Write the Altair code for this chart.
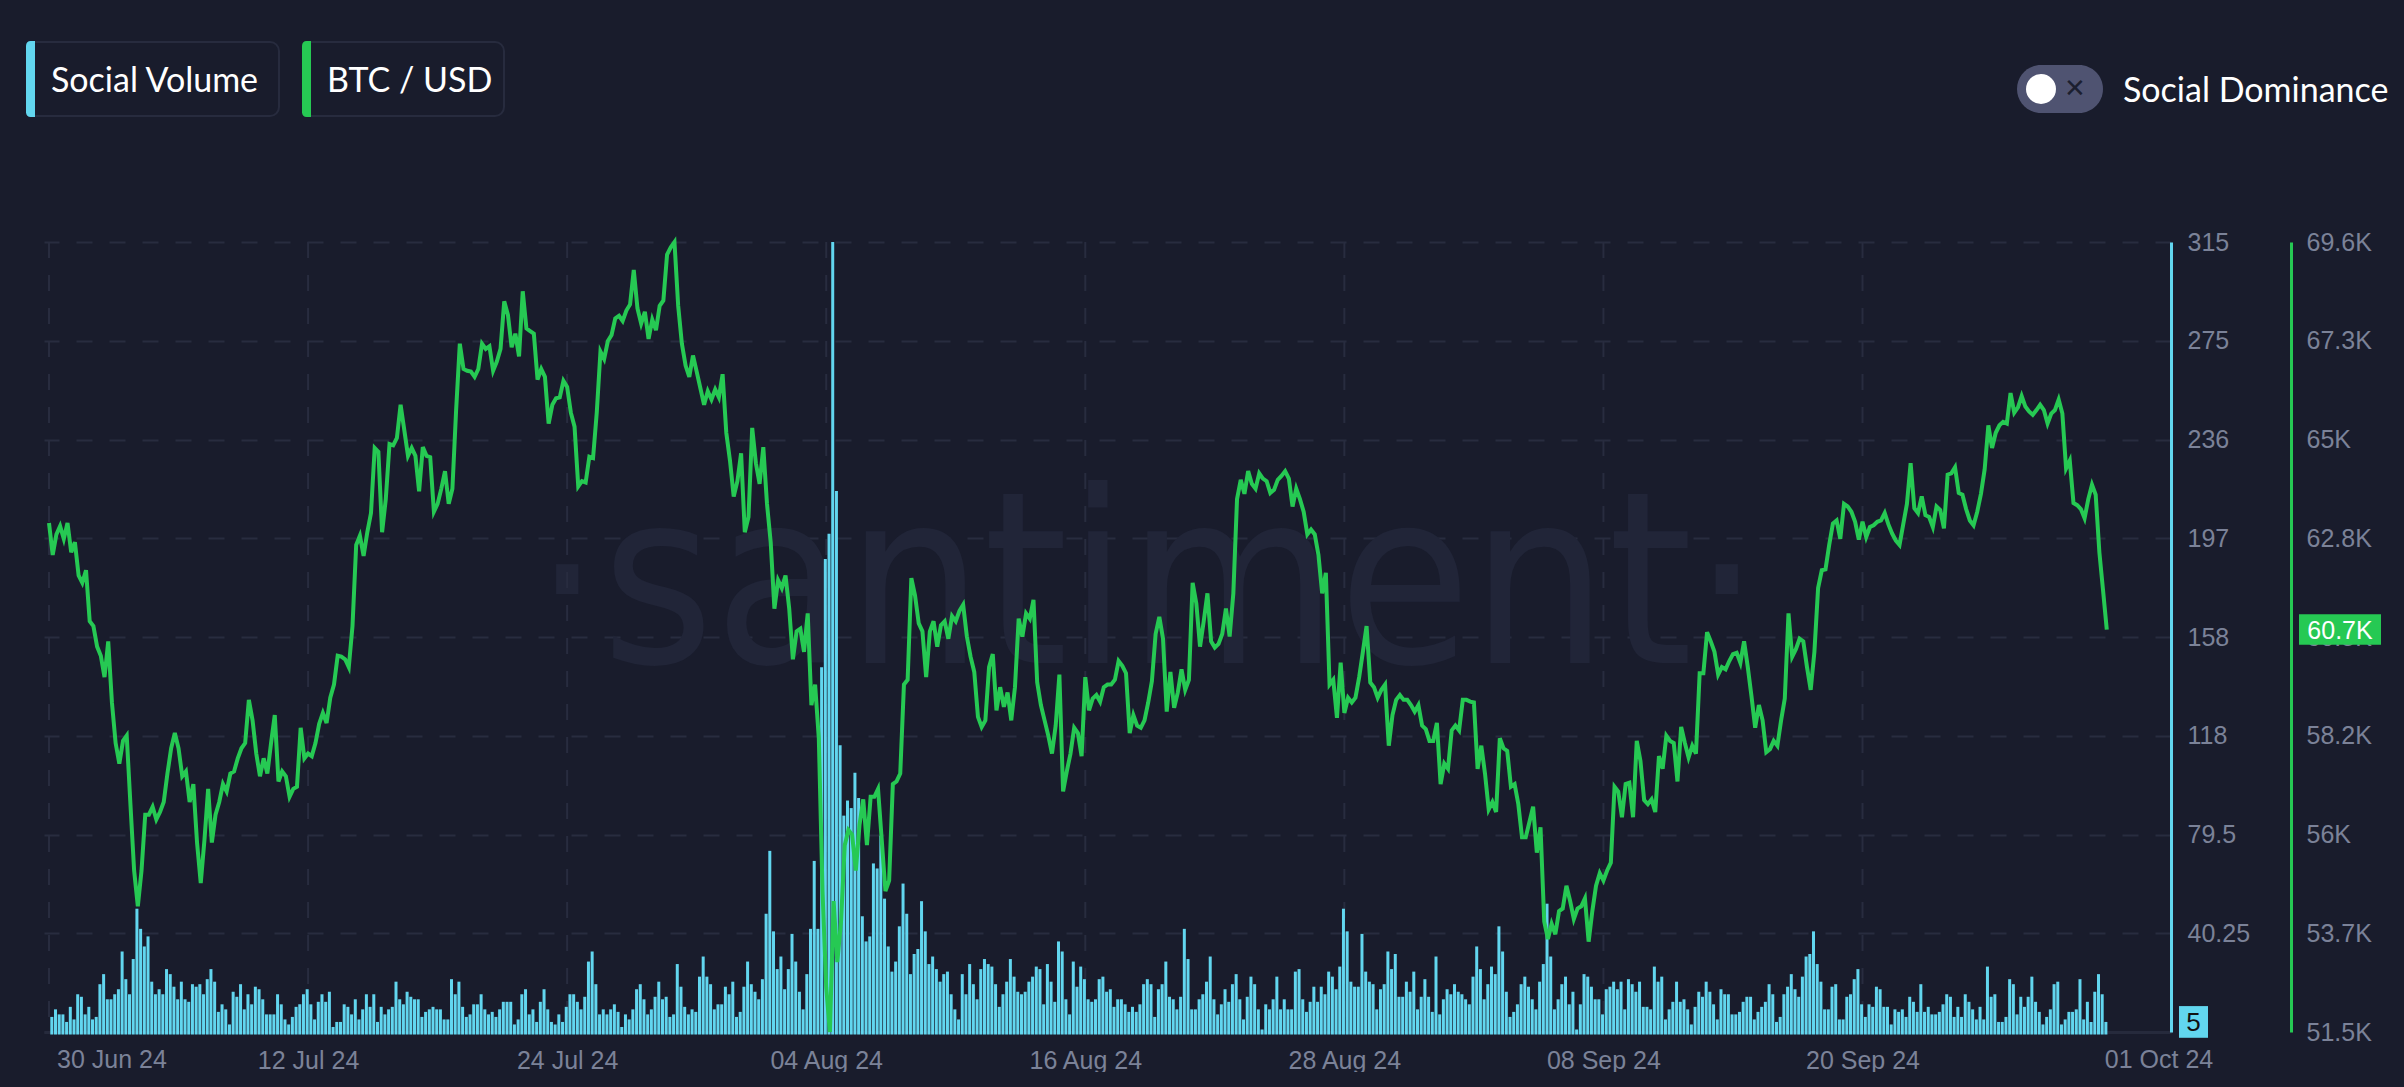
import calendar
import datetime as dt
import altair as alt

# ---------------- data (4-hour samples) ----------------
# BTC / USD close, in thousands of USD, 30 Jun 24 08:00 UTC .. 01 Oct 24 00:00 UTC
btc_usd_k = [
    63.16, 62.43, 62.90, 63.09, 62.80, 63.16, 62.49, 62.72, 61.96, 61.79,
    62.08, 60.91, 60.80, 60.33, 60.12, 59.63, 60.45, 59.05, 58.12, 57.65,
    58.17, 58.29, 56.72, 55.20, 54.38, 55.20, 56.48, 56.48, 56.66, 56.37,
    56.54, 56.77, 57.42, 58.00, 58.35, 58.00, 57.36, 57.47, 56.77, 57.18,
    55.84, 54.91, 55.90, 57.07, 55.84, 56.48, 56.77, 57.18, 57.01, 57.42,
    57.47, 57.77, 58.00, 58.12, 59.11, 58.64, 57.88, 57.36, 57.77, 57.42,
    58.12, 58.76, 57.24, 57.47, 57.36, 56.89, 57.07, 57.12, 58.47, 57.77,
    57.88, 57.82, 58.12, 58.56, 58.81, 58.58, 59.16, 59.46, 60.12, 60.10,
    60.04, 59.86, 60.80, 62.66, 62.87, 62.41, 62.95, 63.39, 64.88, 64.79,
    62.95, 63.71, 64.97, 64.94, 65.11, 65.87, 65.29, 64.70, 64.88, 64.70,
    63.89, 64.90, 64.70, 64.67, 63.42, 63.60, 63.95, 64.35, 63.60, 63.95,
    65.75, 67.27, 66.69, 66.65, 66.63, 66.51, 66.69, 67.27, 67.15, 67.21,
    66.65, 66.86, 67.15, 68.24, 67.93, 67.19, 67.50, 66.98, 68.47, 67.62,
    67.56, 67.50, 66.45, 66.69, 66.51, 65.44, 65.87, 66.02, 66.04, 66.42,
    66.28, 65.69, 65.37, 64.00, 64.12, 64.09, 64.68, 64.65, 65.69, 67.09,
    66.92, 67.33, 67.47, 67.85, 67.91, 67.79, 68.03, 68.17, 68.96, 68.08,
    67.73, 68.00, 67.38, 67.82, 67.58, 68.14, 68.26, 69.31, 69.48, 69.60,
    68.14, 67.27, 66.77, 66.51, 67.00, 66.63, 66.25, 65.87, 66.18, 65.99,
    66.22, 66.04, 66.57, 65.23, 64.59, 63.77, 64.12, 64.76, 62.95, 63.30,
    65.34, 64.53, 64.06, 64.90, 63.60, 62.72, 61.20, 61.85, 61.67, 61.96,
    61.20, 60.04, 60.68, 60.74, 60.21, 61.09, 58.99, 59.46, 58.23, 54.73,
    52.52, 51.50, 54.50, 53.10, 54.03, 55.78, 56.13, 56.02, 55.20, 56.25,
    56.83, 55.78, 56.89, 56.89, 57.07, 55.90, 54.73, 54.97, 57.18, 57.24,
    57.42, 59.46, 59.57, 61.90, 61.50, 60.86, 60.68, 59.63, 60.68, 60.91,
    60.33, 60.82, 60.91, 60.51, 61.03, 60.91, 61.15, 61.29, 60.56, 60.10,
    59.75, 58.72, 58.49, 58.64, 59.86, 60.16, 58.87, 59.40, 58.95, 59.28,
    58.64, 59.40, 60.97, 60.56, 61.09, 60.97, 61.40, 59.51, 58.99, 58.64,
    58.29, 57.88, 58.52, 59.69, 57.01, 57.47, 57.88, 58.47, 58.35, 57.82,
    59.63, 58.87, 59.14, 59.22, 59.07, 59.40, 59.46, 59.46, 59.57, 60.00,
    59.89, 59.72, 58.35, 58.76, 58.52, 58.47, 58.64, 59.05, 59.54, 60.62,
    61.01, 60.51, 58.84, 59.75, 58.93, 59.28, 59.81, 59.34, 59.57, 61.79,
    61.32, 60.33, 60.91, 61.55, 60.45, 60.31, 60.39, 60.62, 61.20, 60.56,
    61.55, 63.71, 64.15, 63.83, 64.35, 64.06, 63.95, 64.30, 64.18, 64.12,
    63.85, 63.92, 64.15, 64.24, 64.35, 64.18, 63.54, 63.95, 63.71, 63.42,
    62.90, 63.01, 62.90, 62.43, 61.55, 62.02, 59.46, 59.57, 58.70, 59.96,
    58.81, 59.16, 59.05, 59.16, 59.63, 60.21, 60.80, 59.51, 59.40, 59.16,
    59.34, 59.46, 58.06, 58.76, 59.11, 59.22, 59.11, 59.11, 58.99, 58.84,
    58.99, 58.52, 58.44, 58.17, 58.17, 58.58, 57.18, 57.65, 57.53, 58.41,
    58.52, 58.41, 59.11, 59.11, 59.07, 59.05, 57.53, 58.06, 57.42, 56.60,
    56.77, 56.54, 58.23, 58.00, 57.94, 57.12, 57.18, 56.72, 55.96, 55.96,
    56.31, 56.66, 55.61, 56.19, 54.03, 53.63, 53.98, 53.74, 54.27, 54.33,
    54.85, 54.50, 54.09, 54.33, 54.38, 54.56, 53.57, 54.27, 54.85, 55.14,
    54.97, 55.20, 55.38, 57.12, 57.01, 56.42, 57.18, 57.21, 56.42, 58.17,
    57.71, 56.81, 56.72, 56.83, 56.54, 57.82, 57.53, 58.29, 58.17, 58.12,
    57.24, 58.49, 58.12, 57.79, 58.06, 57.88, 59.72, 59.72, 60.66, 60.45,
    60.21, 59.69, 59.86, 59.81, 60.00, 60.16, 60.19, 59.96, 60.45, 59.86,
    59.19, 58.47, 58.99, 58.64, 57.91, 57.98, 58.17, 58.06, 58.64, 59.14,
    61.09, 60.10, 60.27, 60.51, 60.45, 59.86, 59.34, 60.21, 61.67, 62.08,
    62.10, 62.66, 63.15, 63.22, 62.80, 63.60, 63.54, 63.42, 63.19, 62.78,
    63.19, 62.84, 63.07, 63.11, 63.19, 63.22, 63.39, 63.13, 62.92, 62.76,
    62.66, 63.13, 63.60, 64.53, 63.50, 63.39, 63.77, 63.34, 63.30, 63.07,
    63.54, 63.46, 63.04, 64.27, 64.30, 64.44, 63.85, 63.81, 63.48, 63.22,
    63.11, 63.42, 63.83, 64.39, 65.40, 64.88, 65.23, 65.40, 65.48, 65.44,
    66.14, 65.69, 65.81, 66.07, 65.83, 65.72, 65.64, 65.75, 65.87, 65.75,
    65.44, 65.67, 65.75, 65.99, 65.67, 64.41, 64.59, 63.62, 63.57, 63.48,
    63.27, 63.71, 64.04, 63.81, 62.49, 61.61, 60.72,
]

# Social Volume per 4-hour bucket
social_volume = [
    7, 10, 8, 8, 5, 11, 6, 16, 15, 8,
    11, 6, 7, 20, 24, 14, 14, 16, 18, 33,
    22, 16, 30, 50, 42, 35, 39, 21, 16, 18,
    16, 26, 24, 19, 14, 21, 14, 13, 20, 19,
    20, 16, 22, 26, 21, 9, 12, 10, 4, 17,
    15, 20, 10, 16, 12, 19, 18, 14, 8, 8,
    8, 16, 12, 6, 4, 7, 11, 12, 16, 18,
    12, 6, 13, 16, 13, 17, 3, 5, 5, 12,
    11, 8, 14, 6, 10, 16, 11, 16, 5, 11,
    8, 10, 11, 21, 14, 12, 17, 15, 14, 14,
    7, 9, 10, 11, 10, 10, 6, 6, 22, 16,
    21, 11, 7, 8, 12, 12, 16, 10, 8, 9,
    7, 10, 13, 13, 13, 4, 6, 16, 18, 8,
    10, 5, 13, 18, 10, 5, 4, 8, 5, 11,
    16, 16, 13, 10, 15, 29, 33, 20, 8, 10,
    8, 10, 12, 9, 3, 8, 6, 10, 18, 20,
    14, 8, 10, 15, 21, 14, 15, 7, 8, 28,
    19, 11, 8, 10, 9, 23, 31, 23, 20, 10,
    12, 12, 19, 16, 21, 7, 9, 19, 29, 20,
    17, 14, 22, 48, 73, 41, 26, 31, 18, 26,
    40, 29, 17, 10, 24, 42, 69, 42, 146, 189,
    199, 315, 216, 115, 87, 93, 90, 104, 94, 47,
    37, 39, 68, 66, 79, 54, 35, 25, 29, 43,
    60, 48, 24, 32, 34, 53, 41, 28, 31, 26,
    21, 24, 25, 16, 10, 6, 24, 16, 28, 20,
    14, 26, 30, 28, 27, 20, 11, 16, 21, 30,
    23, 17, 16, 17, 21, 23, 27, 26, 12, 28,
    21, 13, 37, 33, 14, 8, 29, 19, 27, 22,
    14, 13, 14, 22, 23, 17, 18, 11, 14, 14,
    12, 9, 11, 9, 12, 20, 22, 20, 7, 18,
    20, 29, 15, 14, 10, 15, 42, 30, 10, 10,
    14, 16, 21, 31, 14, 8, 12, 18, 13, 20,
    24, 14, 6, 15, 23, 20, 10, 2, 12, 10,
    14, 23, 10, 14, 10, 10, 25, 26, 14, 9,
    13, 19, 13, 19, 16, 25, 23, 18, 27, 50,
    41, 21, 19, 19, 40, 25, 21, 20, 10, 18,
    20, 33, 26, 32, 15, 15, 21, 17, 25, 10,
    15, 22, 15, 9, 31, 8, 14, 18, 16, 20,
    17, 16, 14, 12, 23, 35, 26, 14, 20, 27,
    24, 43, 33, 17, 7, 9, 12, 20, 23, 19,
    14, 10, 21, 28, 52, 31, 10, 14, 20, 23,
    12, 17, 2, 12, 24, 23, 19, 14, 14, 8,
    18, 19, 21, 18, 21, 10, 22, 20, 17, 21,
    11, 11, 10, 27, 21, 23, 6, 10, 13, 21,
    13, 14, 10, 4, 11, 17, 15, 21, 17, 12,
    6, 18, 16, 16, 8, 8, 9, 13, 15, 15,
    6, 9, 11, 13, 20, 16, 5, 7, 16, 19,
    24, 18, 15, 23, 31, 32, 41, 28, 21, 10,
    10, 19, 20, 6, 6, 15, 16, 22, 26, 12,
    7, 12, 11, 19, 18, 11, 11, 4, 10, 9,
    10, 7, 15, 13, 9, 20, 9, 11, 8, 8,
    9, 12, 16, 15, 7, 11, 7, 16, 13, 10,
    6, 11, 6, 27, 15, 16, 5, 5, 7, 22,
    20, 8, 15, 11, 15, 23, 13, 9, 4, 7,
    10, 20, 21, 4, 6, 9, 9, 10, 22, 6,
    13, 5, 17, 24, 16, 5,
]

legend_names = ["Social Volume", "BTC / USD"]
toggle_label = "Social Dominance"
watermark_text = "\u00b7santiment\u00b7"
edge_labels = ["30 Jun 24", "01 Oct 24"]

# axis ranges shown by the reference
vol_range = [1, 315]
price_range = [51500, 69600]

# ---------------- time axis ----------------
START = dt.datetime(2024, 6, 30, 8, 0)
STEP_H = 4
DOMAIN_END = START + dt.timedelta(hours=2288)
GRID_STEP_H = 280


def iso(t):
    return t.strftime("%Y-%m-%dT%H:%M:%SZ")


def ms(t):
    return calendar.timegm(t.timetuple()) * 1000


price_rows = [{"t": iso(START + dt.timedelta(hours=STEP_H * i)), "price": round(p * 1000)}
              for i, p in enumerate(btc_usd_k)]
vol_rows = [{"t": iso(START + dt.timedelta(hours=STEP_H * i)), "vol": v}
            for i, v in enumerate(social_volume)]
grid_rows = [{"t": iso(START + dt.timedelta(hours=GRID_STEP_H * k))} for k in range(8)]
x_tick_ms = [ms(START + dt.timedelta(hours=GRID_STEP_H * k)) for k in range(1, 8)]

# ---------------- style ----------------
BG = "#191c2c"
GRID = "#282c3f"
LABEL = "#7b8298"
CYAN = "#62d6ef"
GREEN = "#26c953"
WM = "#212538"
AXFONT = "Liberation Sans"
UIFONT = "Lato"

W, H = 2127, 790

xs = alt.Scale(type="utc", domain=[ms(START), ms(DOMAIN_END)], nice=False)
x_axis = alt.Axis(values=x_tick_ms, labelExpr="utcFormat(time(datum.value) + 43200000, '%d %b %y')",
                  grid=False, ticks=False, domain=True, domainColor="#262a3c", domainWidth=3,
                  labelColor=LABEL, labelFont=AXFONT, labelFontSize=25, labelPadding=16,
                  labelFlush=False, labelOverlap=False, title=None)

vol_ticks = [vol_range[0] + (vol_range[1] - vol_range[0]) * k / 8 for k in range(9)]
price_ticks = [price_range[0] + (price_range[1] - price_range[0]) * k / 8 for k in range(9)]

vs = alt.Scale(domain=vol_range, nice=False, zero=False)
ps = alt.Scale(domain=price_range, nice=False, zero=False)

vol_axis = alt.Axis(orient="right", values=vol_ticks,
                    labelExpr="datum.value < 2 ? '' : (datum.value >= 100 ? format(floor(datum.value), 'd') : format(datum.value, '~g'))",
                    grid=True, gridColor=GRID, gridDash=[16, 17], gridWidth=2,
                    domain=True, domainColor=CYAN, domainWidth=3, ticks=False,
                    labelColor=LABEL, labelFont=AXFONT, labelFontSize=25, labelPadding=16,
                    labelOverlap=False, title=None)
price_axis = alt.Axis(orient="right", offset=120, values=price_ticks,
                      labelExpr="replace(format(floor(datum.value / 100) / 10, '.1f'), '.0', '') + 'K'",
                      grid=False, domain=True, domainColor=GREEN, domainWidth=3, ticks=False,
                      labelColor=LABEL, labelFont=AXFONT, labelFontSize=25, labelPadding=15,
                      labelOverlap=False, title=None)

one = alt.Data(values=[{"k": 0}])

# watermark
watermark = alt.Chart(one).mark_text(
    text=watermark_text, font="Liberation Sans Narrow, DejaVu Sans Condensed, Liberation Sans",
    fontSize=240, color=WM, align="center", baseline="alphabetic"
).encode(x=alt.value(1103), y=alt.value(421))

# vertical dashed grid
vgrid = alt.Chart(alt.Data(values=grid_rows)).mark_rule(
    color=GRID, strokeWidth=2, strokeDash=[16, 17]
).encode(x=alt.X("t:T", scale=xs, axis=x_axis))

# social volume bars + last value tag
bars = alt.Chart(alt.Data(values=vol_rows)).mark_bar(width=3, xOffset=2.8, color=CYAN).encode(
    x=alt.X("t:T", scale=xs, axis=x_axis),
    y=alt.Y("vol:Q", scale=vs, axis=vol_axis),
)
vol_last = alt.Data(values=[{"vol": social_volume[-1]}])
vol_tag_box = alt.Chart(vol_last).transform_calculate(
    lo="datum.vol - 6.3", hi="datum.vol + 6.3"
).mark_rect(color=CYAN).encode(
    x=alt.value(2135), x2=alt.value(2164),
    y=alt.Y("lo:Q", scale=vs, axis=vol_axis), y2="hi:Q",
)
vol_tag_txt = alt.Chart(vol_last).transform_calculate(lbl="format(datum.vol, 'd')").mark_text(
    font=AXFONT, fontSize=26, color="#111111", align="center", baseline="middle", dy=1
).encode(x=alt.value(2149.5), y=alt.Y("vol:Q", scale=vs, axis=vol_axis), text="lbl:N")
vol_layer = alt.layer(bars, vol_tag_box, vol_tag_txt)

# BTC line + last value tag
line = alt.Chart(alt.Data(values=price_rows)).mark_line(color=GREEN, strokeWidth=4).encode(
    x=alt.X("t:T", scale=xs, axis=x_axis),
    y=alt.Y("price:Q", scale=ps, axis=price_axis),
)
price_last = alt.Data(values=[{"price": round(btc_usd_k[-1] * 1000)}])
price_tag_box = alt.Chart(price_last).transform_calculate(
    lo="datum.price - 350", hi="datum.price + 350"
).mark_rect(color=GREEN).encode(
    x=alt.value(2255), x2=alt.value(2337),
    y=alt.Y("lo:Q", scale=ps, axis=price_axis), y2="hi:Q",
)
price_tag_txt = alt.Chart(price_last).transform_calculate(
    lbl="format(floor(datum.price / 100) / 10, '.1f') + 'K'"
).mark_text(font=AXFONT, fontSize=25, color="#ffffff", align="center", baseline="middle", dy=1).encode(
    x=alt.value(2296), y=alt.Y("price:Q", scale=ps, axis=price_axis), text="lbl:N")
price_layer = alt.layer(line, price_tag_box, price_tag_txt)

# x-axis edge labels (start / end of range)
edge_first = alt.Chart(one).mark_text(text=edge_labels[0], font=AXFONT, fontSize=25, color=LABEL,
                                      align="center", baseline="alphabetic").encode(
    x=alt.value(68), y=alt.value(826))
edge_last = alt.Chart(one).mark_text(text=edge_labels[1], font=AXFONT, fontSize=25, color=LABEL,
                                     align="center", baseline="alphabetic").encode(
    x=alt.value(2115), y=alt.value(826))

# legend chips at the top
def chip(x0, x1, color, label):
    box = alt.Chart(one).mark_rect(fill=BG, stroke="#272b3e", strokeWidth=2, cornerRadius=9).encode(
        x=alt.value(x0), x2=alt.value(x1), y=alt.value(-200), y2=alt.value(-126))
    stripe = alt.Chart(one).mark_rect(color=color, cornerRadiusTopLeft=9, cornerRadiusBottomLeft=9).encode(
        x=alt.value(x0 - 1), x2=alt.value(x0 + 8), y=alt.value(-201), y2=alt.value(-125))
    txt = alt.Chart(one).mark_text(text=label, font=UIFONT, fontSize=34, color="#ffffff",
                                   align="left", baseline="alphabetic").encode(
        x=alt.value(x0 + 24), y=alt.value(-150))
    return [box, stripe, txt]


chips = chip(-17, 235, CYAN, legend_names[0]) + chip(259, 460, GREEN, legend_names[1])

pill = alt.Chart(one).mark_rect(color="#4f5371", cornerRadius=24).encode(
    x=alt.value(1973), x2=alt.value(2059), y=alt.value(-177), y2=alt.value(-129))
knob = alt.Chart(one).mark_circle(color="#ffffff", opacity=1, size=900).encode(
    x=alt.value(1997), y=alt.value(-153))
cross = alt.Chart(one).mark_text(text="\u2715", font="DejaVu Sans", fontSize=26, color="#1c1f30",
                                 align="center", baseline="middle").encode(
    x=alt.value(2031), y=alt.value(-153))
toggle_txt = alt.Chart(one).mark_text(text=toggle_label, font=UIFONT, fontSize=34, color="#ffffff",
                                      align="left", baseline="alphabetic").encode(
    x=alt.value(2079), y=alt.value(-140))

chart = alt.layer(
    watermark, vgrid, vol_layer, price_layer, edge_first, edge_last,
    *chips, pill, knob, cross, toggle_txt
).resolve_scale(y="independent").properties(
    width=W, height=H,
    padding={"left": 36, "top": 234, "right": 225, "bottom": 40},
    autosize=alt.AutoSizeParams(type="none"),
    background=BG,
).configure_view(stroke=None)

chart.save("out.html", embed_options={"renderer": "svg", "actions": False,
                                      "defaultStyle": "body { background: #191c2c; }"})
